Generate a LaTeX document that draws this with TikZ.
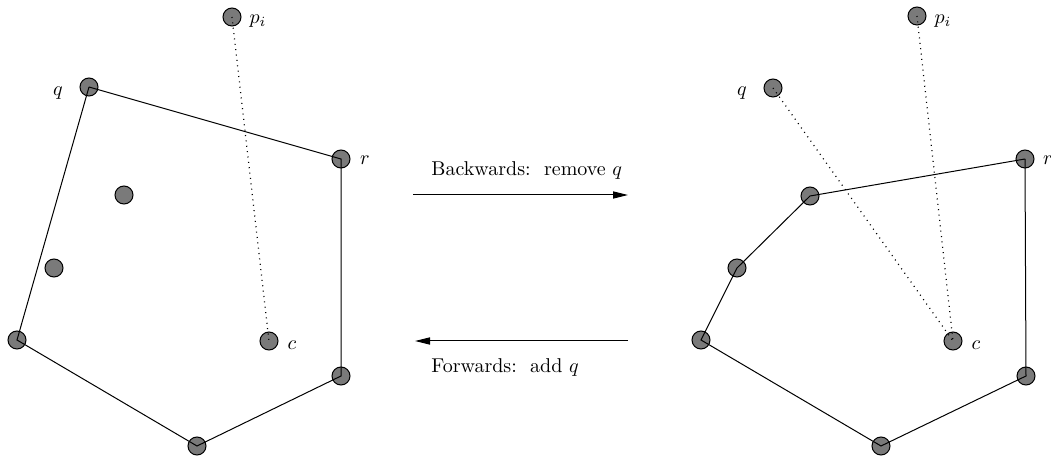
\documentclass[tikz,border=0pt]{standalone}
\usetikzlibrary{arrows.meta}
\begin{document}
\begin{tikzpicture}[x=0.5pt,y=-0.5pt,
  pt/.style={circle,draw=black,fill=black!52,line width=0.5pt,minimum size=9pt,inner sep=0pt},
  hull/.style={line width=0.5pt},
  dots/.style={line width=0.6pt,dash pattern=on 0.5pt off 2.2pt},
  lab/.style={inner sep=0pt,font=\normalsize},
  bigarrow/.style={line width=0.5pt,-{Triangle[length=7.5pt,width=3.6pt]}}]
\useasboundingbox (0,0) rectangle (1051,459);
% left configuration
\node[pt] (lp) at (232,17) {};
\node[pt] (lq) at (89,87) {};
\node[pt] (lr) at (341,159) {};
\node[pt] (li1) at (124,195) {};
\node[pt] (li2) at (54,268) {};
\node[pt] (ll) at (17,340) {};
\node[pt] (lb) at (197,446) {};
\node[pt] (lbr) at (341,376) {};
\node[pt] (lc) at (269,341) {};
\draw[hull] (lq.center) -- (lr.center) -- (lbr.center) -- (lb.center) -- (ll.center) -- (lq.center);
\draw[dots] (lp.center) -- (lc.center);
\node[lab] (lpl) at (258,21) {$p_i$};
\node[lab] (lql) at (58,93) {$q$};
\node[lab] (lrl) at (365,160) {$r$};
\node[lab] (lcl) at (292,345) {$c$};
% right configuration
\node[pt] (rp) at (917,16) {};
\node[pt] (rq) at (773,88) {};
\node[pt] (rr) at (1025,159) {};
\node[pt] (r1) at (810,196) {};
\node[pt] (r2) at (737,268) {};
\node[pt] (rl) at (701,340) {};
\node[pt] (rb) at (881,446) {};
\node[pt] (rbr) at (1026,376) {};
\node[pt] (rc) at (953,341) {};
\draw[hull] (rr.center) -- (r1.center) -- (r2.center) -- (rl.center) -- (rb.center) -- (rbr.center) -- (rr.center);
\draw[dots] (rq.center) -- (rc.center);
\draw[dots] (rp.center) -- (rc.center);
\node[lab] (rpl) at (943,21) {$p_i$};
\node[lab] (rql) at (742,93) {$q$};
\node[lab] (rrl) at (1048,160) {$r$};
\node[lab] (rcl) at (976,345) {$c$};
% arrows
\coordinate (a1s) at (413,195);
\coordinate (a1e) at (628,195);
\coordinate (a2s) at (628,341);
\coordinate (a2e) at (415,341);
\draw[bigarrow] (a1s) -- (a1e);
\draw[bigarrow] (a2s) -- (a2e);
\node[lab,anchor=west] (bl) at (431,171) {Backwards:\ \ remove $q$};
\node[lab,anchor=west] (fl) at (431,368) {Forwards:\ \ add $q$};
\end{tikzpicture}
\end{document}
